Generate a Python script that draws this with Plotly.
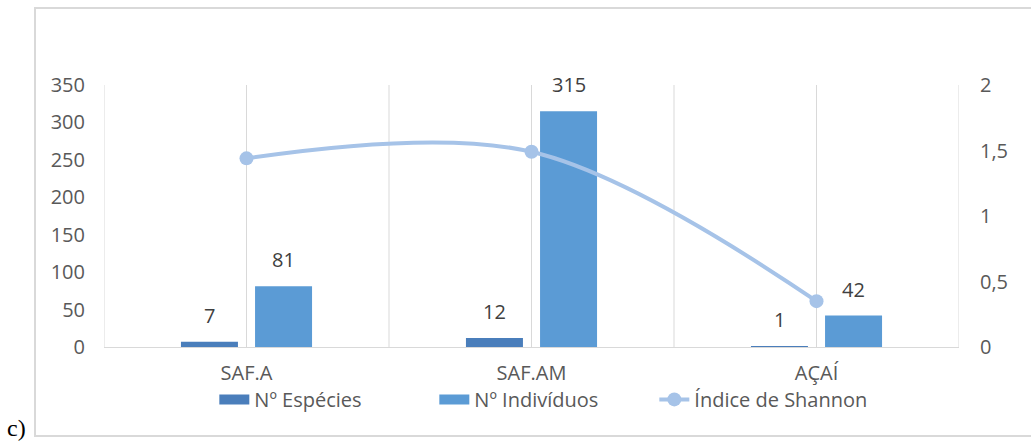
import plotly.graph_objects as go

# ---- data ----
categories = ["SAF.A", "SAF.AM", "AÇAÍ"]
especies = [7, 12, 1]
individuos = [81, 315, 42]
shannon = [1.44, 1.49, 0.35]
left_ticks = [0, 50, 100, 150, 200, 250, 300, 350]
right_ticks = [0, 0.5, 1, 1.5, 2]

C_DARK = "#4A7EBB"
C_LIGHT = "#5B9BD5"
C_LINE = "#A6C3E8"
C_GRID = "#D9D9D9"
C_TEXT = "#595959"
FONT = "Open Sans"
FS = 20

fig = go.Figure()
fig.add_trace(go.Bar(x=categories, y=especies, name="Nº Espécies",
                     marker=dict(color=C_DARK, line=dict(width=0)),
                     offset=-0.23, width=0.2, showlegend=False, legendgroup="esp"))
fig.add_trace(go.Bar(x=categories, y=individuos, name="Nº Indivíduos",
                     marker=dict(color=C_LIGHT, line=dict(width=0)),
                     offset=0.03, width=0.2, showlegend=False, legendgroup="ind"))
# legend swatches (wide rectangles like the original legend keys)
fig.add_trace(go.Scatter(x=[None], y=[None], name="Nº Espécies", mode="lines",
                         line=dict(color=C_DARK, width=13), legendgroup="esp",
                         legendrank=1, hoverinfo="skip"))
fig.add_trace(go.Scatter(x=[None], y=[None], name="Nº Indivíduos", mode="lines",
                         line=dict(color=C_LIGHT, width=13), legendgroup="ind",
                         legendrank=2, hoverinfo="skip"))
fig.add_trace(go.Scatter(x=categories, y=shannon, name="Índice de Shannon",
                         mode="lines+markers", yaxis="y2", legendrank=3,
                         line=dict(shape="spline", smoothing=1, width=4, color=C_LINE),
                         marker=dict(size=14, color=C_LINE)))

annotations = []
for i, c in enumerate(categories):
    annotations.append(dict(x=c, y=especies[i], text=str(especies[i]), xref="x", yref="y",
                            xshift=-37, yshift=11, yanchor="bottom", showarrow=False,
                            font=dict(family=FONT, size=FS, color="#404040")))
    annotations.append(dict(x=c, y=individuos[i], text=str(individuos[i]), xref="x", yref="y",
                            xshift=37, yshift=11, yanchor="bottom", showarrow=False,
                            font=dict(family=FONT, size=FS, color="#404040")))
annotations.append(dict(x=-0.1158, y=-0.309, xref="paper", yref="paper", text="c)",
                        xanchor="left", yanchor="middle", showarrow=False,
                        font=dict(family="Liberation Serif", size=24, color="black")))

shapes = []
for k in range(len(categories) + 1):
    shapes.append(dict(type="line", xref="x", yref="paper", x0=k - 0.5, x1=k - 0.5,
                       y0=0, y1=1, line=dict(color=C_GRID, width=1), layer="below"))
shapes.append(dict(type="rect", xref="paper", yref="paper",
                   x0=-0.0807, x1=1.087, y0=-0.3397, y1=1.2939,
                   line=dict(color=C_GRID, width=2), layer="below"))

fig.update_layout(
    width=1031, height=441,
    margin=dict(l=104, r=72, t=85, b=94),
    paper_bgcolor="white", plot_bgcolor="white",
    barmode="overlay",
    separators=",.",
    font=dict(family=FONT, size=FS, color=C_TEXT),
    showlegend=True,
    legend=dict(orientation="h", x=0.515, xanchor="center", y=-0.2, yanchor="middle",
                font=dict(family=FONT, size=FS, color=C_TEXT),
                entrywidth=175, entrywidthmode="pixels",
                bgcolor="rgba(0,0,0,0)", traceorder="normal"),
    xaxis=dict(type="category", range=[-0.5, len(categories) - 0.5],
               showgrid=True, gridcolor=C_GRID, gridwidth=1,
               showline=True, linecolor=C_GRID, linewidth=1,
               ticks="", ticklabelstandoff=8, zeroline=False),
    yaxis=dict(range=[0, 350], tickvals=left_ticks, showgrid=False, zeroline=False,
               showline=False, ticks="", ticklabelstandoff=18),
    yaxis2=dict(range=[0, 2], tickvals=right_ticks, overlaying="y", side="right",
                showgrid=False, zeroline=False, showline=False, ticks="",
                ticklabelstandoff=20),
    annotations=annotations,
    shapes=shapes,
)

fig.write_html("out.html")
